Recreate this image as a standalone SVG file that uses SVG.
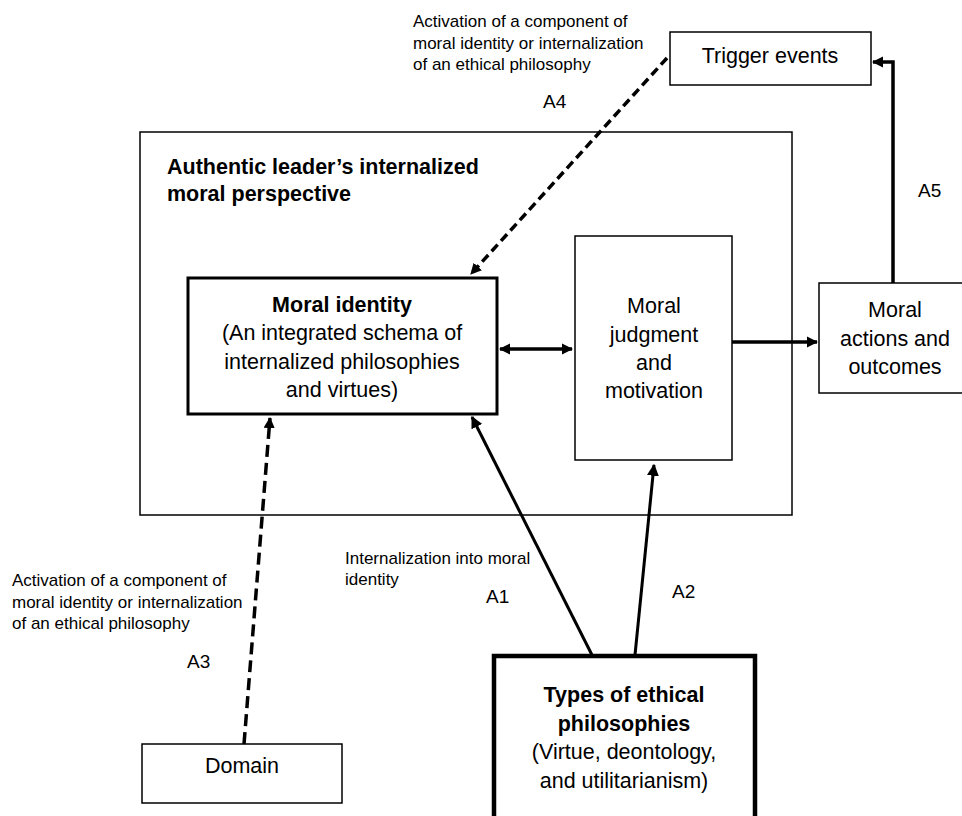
<svg xmlns="http://www.w3.org/2000/svg" width="962" height="816" viewBox="0 0 962 816">
<defs>
<style>
text{font-family:"Liberation Sans",Arial,sans-serif;fill:#000}
.sm{font-size:17px}
.lb{font-size:19px}
.nd{font-size:21.5px;text-anchor:middle}
.b{font-weight:bold}
.box{fill:#fff;stroke:#000}
.c{fill:none;stroke:#000}
</style>
<marker id="ah" viewBox="0 0 10 10" refX="9" refY="5" markerWidth="4" markerHeight="4" orient="auto-start-reverse" markerUnits="strokeWidth"><path d="M0,0 L10,5 L0,10 z" fill="#000"/></marker>
<marker id="ah2" viewBox="0 0 10 10" refX="9" refY="5" markerWidth="3.2" markerHeight="3.2" orient="auto-start-reverse" markerUnits="strokeWidth"><path d="M0,0 L10,5 L0,10 z" fill="#000"/></marker>
</defs>
<g id="outer">
<rect class="box" x="140" y="132" width="652" height="383" stroke-width="1.5"/>
<text class="b" x="167" y="174" font-size="21.5">Authentic leader’s internalized</text>
<text class="b" x="167" y="201" font-size="21.5">moral perspective</text>
</g>
<g id="trigger">
<rect class="box" x="670" y="32" width="201" height="53" stroke-width="1.5"/>
<text class="nd" x="770" y="63">Trigger events</text>
</g>
<g id="identity">
<rect class="box" x="188" y="278" width="309" height="136" stroke-width="3"/>
<text class="nd b" x="342" y="312">Moral identity</text>
<text class="nd" x="342" y="340">(An integrated schema of</text>
<text class="nd" x="342" y="369">internalized philosophies</text>
<text class="nd" x="342" y="397">and virtues)</text>
</g>
<g id="judgment">
<rect class="box" x="575" y="236" width="157" height="224" stroke-width="1.5"/>
<text class="nd" x="654" y="313">Moral</text>
<text class="nd" x="654" y="342">judgment</text>
<text class="nd" x="654" y="370">and</text>
<text class="nd" x="654" y="398">motivation</text>
</g>
<g id="actions">
<rect class="box" x="819" y="283" width="160" height="110" stroke-width="1.5"/>
<text class="nd" x="895" y="317">Moral</text>
<text class="nd" x="895" y="346">actions and</text>
<text class="nd" x="895" y="374">outcomes</text>
</g>
<g id="domain">
<rect class="box" x="142" y="744" width="200" height="59" stroke-width="1.5"/>
<text class="nd" x="242" y="773">Domain</text>
</g>
<g id="types">
<rect class="box" x="494" y="656" width="261" height="175" stroke-width="4.5"/>
<text class="nd b" x="624" y="702">Types of ethical</text>
<text class="nd b" x="624" y="731">philosophies</text>
<text class="nd" x="624" y="759">(Virtue, deontology,</text>
<text class="nd" x="624" y="788">and utilitarianism)</text>
</g>
<g id="connectors">
<path class="c" d="M893,283 V62 H873" stroke-width="3.5" marker-end="url(#ah2)"/>
<path class="c" d="M667,58 L471,274" stroke-width="3.5" stroke-dasharray="9,5" marker-end="url(#ah2)"/>
<path class="c" d="M500,349 H572" stroke-width="3.5" marker-start="url(#ah2)" marker-end="url(#ah2)"/>
<path class="c" d="M732,342 H817" stroke-width="3.5" marker-end="url(#ah2)"/>
<path class="c" d="M244,744 L270,418" stroke-width="3.5" stroke-dasharray="12,6" marker-end="url(#ah2)"/>
<path class="c" d="M592,655 L472,417" stroke-width="3" marker-end="url(#ah)"/>
<path class="c" d="M635,655 L654,465" stroke-width="3" marker-end="url(#ah)"/>
</g>
<g id="labels">
<text class="sm" x="413" y="27">Activation of a component of</text>
<text class="sm" x="413" y="49">moral identity or internalization</text>
<text class="sm" x="413" y="70">of an ethical philosophy</text>
<text class="lb" x="543" y="108">A4</text>
<text class="lb" x="918" y="197">A5</text>
<text class="sm" x="345" y="564">Internalization into moral</text>
<text class="sm" x="345" y="585">identity</text>
<text class="lb" x="486" y="603">A1</text>
<text class="lb" x="672" y="598">A2</text>
<text class="sm" x="12" y="586">Activation of a component of</text>
<text class="sm" x="12" y="608">moral identity or internalization</text>
<text class="sm" x="12" y="629">of an ethical philosophy</text>
<text class="lb" x="187" y="668">A3</text>
</g>
</svg>
